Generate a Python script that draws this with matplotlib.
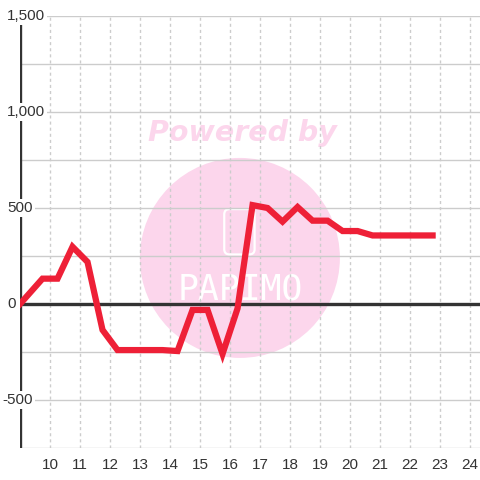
import matplotlib.pyplot as plt
from matplotlib.patches import Ellipse, FancyBboxPatch

plt.rcParams['font.family'] = ['Liberation Sans', 'DejaVu Sans']

# values (hour of day -> value)
hours = [9.0, 9.75, 10.25, 10.75, 11.25, 11.75, 12.25, 12.75, 13.25, 13.75,
         14.25, 14.75, 15.25, 15.75, 16.25, 16.75, 17.25, 17.75, 18.25, 18.75,
         19.25, 19.75, 20.25, 20.75, 21.25, 21.75, 22.25, 22.75]
values = [0, 132, 132, 298, 219, -135, -240, -240, -240, -240,
          -245, -31, -31, -260, -23, 515, 500, 429, 505, 434,
          434, 380, 380, 357, 357, 357, 357, 357]

x_ticks = list(range(10, 25))
y_ticks = [-500, 0, 500, 1000, 1500]
y_labels = ["-500", "0", "500", "1,000", "1,500"]

W, H = 480, 480
fig = plt.figure(figsize=(4.8, 4.8), dpi=100)
ax = fig.add_axes([20 / W, 32 / H, 460 / W, 432 / H])
ax.set_xlim(9, 24.33)
ax.set_ylim(-750, 1500)

# watermark
ax.add_patch(Ellipse((0.478, 0.44), 200 / 460, 200 / 432, transform=ax.transAxes,
                     facecolor='#fcd6ec', edgecolor='none', zorder=0))
ax.text(0.483, 0.729, "Powered by", transform=ax.transAxes, ha='center', va='center',
        fontsize=20.5, fontweight='bold', fontstyle='italic', family='DejaVu Sans',
        color='#fcd6ec', zorder=0)
ax.add_patch(FancyBboxPatch((0.444, 0.448), 0.066, 0.105, transform=ax.transAxes,
                            boxstyle="round,pad=0,rounding_size=0.012",
                            facecolor='none', edgecolor='white', linewidth=1.6, zorder=0.2))
ax.text(0.478, 0.366, "PAPIMO", transform=ax.transAxes, ha='center', va='center',
        fontsize=25, family='DejaVu Sans Mono', color='white', zorder=0.2)

# grid
for yv in range(-750, 1501, 250):
    ax.axhline(yv, color='#cccccc', linewidth=1, zorder=0.5)
for xv in x_ticks:
    ax.axvline(xv, color='#cccccc', linewidth=1, linestyle=(0, (2.2, 2.2)), zorder=0.5)
ax.axhline(0, color='#333333', linewidth=2.4, zorder=1)
ax.axvline(9, color='#333333', linewidth=2.4, zorder=1)

ax.plot(hours, values, color='#ee2037', linewidth=4.5, solid_joinstyle='miter',
        solid_capstyle='projecting', zorder=2)

for spine in ax.spines.values():
    spine.set_visible(False)
ax.set_xticks(x_ticks)
ax.set_xticklabels([str(t) for t in x_ticks])
ax.tick_params(axis='x', length=0, pad=7, labelsize=11, labelcolor='#333333')
ax.set_yticks([])

# y labels sit over the left spine with a white box
for yv, lab in zip(y_ticks, y_labels):
    xoff = 2 if yv < 0 else 7
    ax.annotate(lab, xy=(0, yv), xycoords=('figure pixels', 'data'),
                xytext=(xoff * 0.72, 0), textcoords='offset points',
                ha='left', va='center', fontsize=11, color='#333333',
                bbox=dict(boxstyle='square,pad=0.15', facecolor='white', edgecolor='none'),
                zorder=3, annotation_clip=False)

fig.savefig("out.png", dpi=100, facecolor='white')
